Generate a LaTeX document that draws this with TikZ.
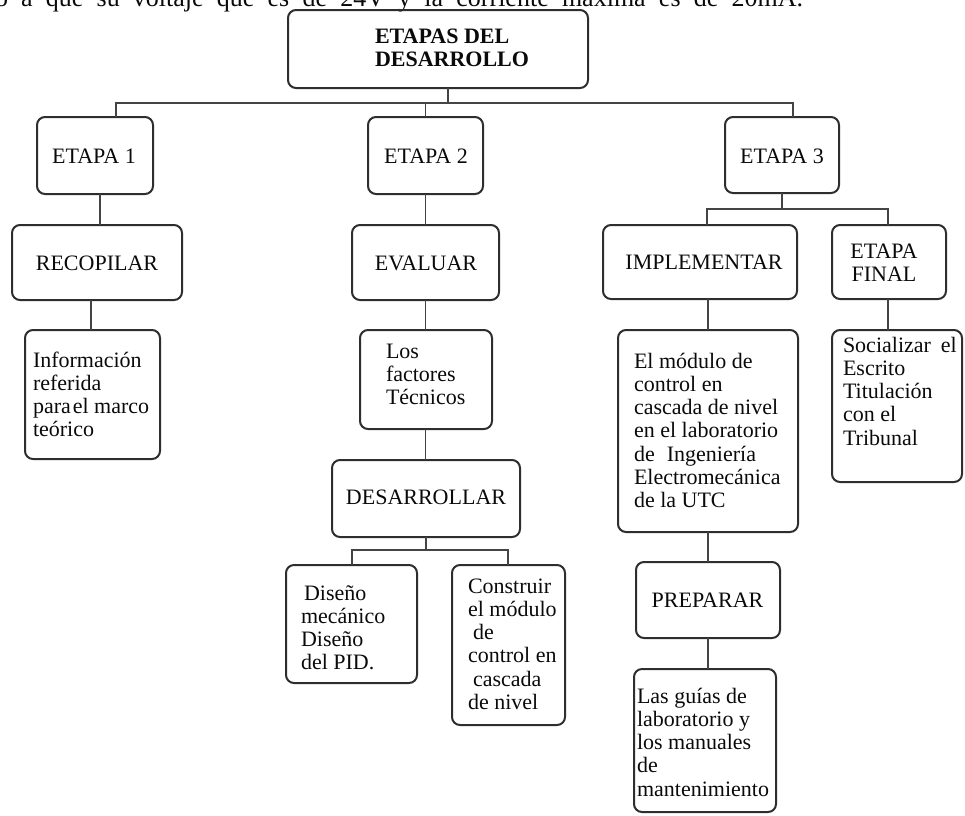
\documentclass[tikz,border=0pt]{standalone}
\usepackage{fontspec}
\setmainfont{Liberation Serif}
\usetikzlibrary{fit}
\definecolor{edge}{HTML}{2E2E2E}
\definecolor{wire}{HTML}{444444}
\definecolor{ink}{HTML}{0A0A0A}
% multi-line text blocks whose base is the first line's baseline
\newcommand\stackL[1]{\begin{tabular}[t]{@{}l@{}}#1\end{tabular}}
\newcommand\stackC[1]{\begin{tabular}[t]{@{}c@{}}#1\end{tabular}}
\begin{document}
\begin{tikzpicture}[x=1pt,y=-1pt,
  box/.style={draw=edge, line width=2pt, rounded corners=8pt, inner sep=0pt, outer sep=0pt},
  conn/.style={draw=wire, line width=1.7pt},
  txt/.style={text=ink, inner sep=0pt, outer sep=0pt, font=\fontsize{22}{23.3}\selectfont},
  txtw/.style={txt, anchor=base west},
  txtc/.style={txt, anchor=base}]
\useasboundingbox (0,0) rectangle (965,815);

% running text line above the chart
\node[txt, anchor=base west, font=\fontsize{26}{28}\selectfont] (prose) at (-5,6)
  {\makebox[808pt][s]{o a que su voltaje que es de 24V y la corriente máxima es de 20mA.}};

% boxes
\node[box, fit={(288,10) (588,88)}]   (top)  {};
\node[box, fit={(37,117) (153,194)}]  (e1)   {};
\node[box, fit={(368,117) (483,194)}] (e2)   {};
\node[box, fit={(725,117) (839,193)}] (e3)   {};
\node[box, fit={(12,225) (182,300)}]  (rec)  {};
\node[box, fit={(352,225) (499,300)}] (eva)  {};
\node[box, fit={(603,225) (797,299)}] (imp)  {};
\node[box, fit={(832,225) (946,299)}] (fin)  {};
\node[box, fit={(25,330) (160,459)}]  (info) {};
\node[box, fit={(360,330) (492,429)}] (los)  {};
\node[box, fit={(332,460) (520,537)}] (des)  {};
\node[box, fit={(286,565) (417,683)}] (dis)  {};
\node[box, fit={(452,565) (565,725)}] (con)  {};
\node[box, fit={(618,330) (798,532)}] (mod)  {};
\node[box, fit={(636,562) (780,638)}] (prep) {};
\node[box, fit={(634,669) (776,812)}] (guia) {};
\node[box, fit={(832,330) (962,482)}] (soc)  {};

% texts
\node[txtw, font=\fontsize{22}{23}\selectfont\bfseries] (ttop) at (375,43) {\stackL{ETAPAS DEL\\DESARROLLO}};
\node[txtc] (te1) at (94,163) {ETAPA 1};
\node[txtc] (te2) at (426,163) {ETAPA 2};
\node[txtc] (te3) at (782,163) {ETAPA 3};
\node[txtc] (trec) at (97,270) {RECOPILAR};
\node[txtc] (teva) at (426,270) {EVALUAR};
\node[txtc] (timp) at (704,269) {IMPLEMENTAR};
\node[txtc] (tfin) at (884,258) {\stackC{ETAPA\\FINAL}};
\node[txtw] (tinfo) at (33,367) {\stackL{Información\\referida\\para\hspace{2pt}el marco\\teórico}};
\node[txtw] (tlos) at (386,358) {\stackL{Los\\factores\\Técnicos}};
\node[txtc] (tdes) at (426,504) {DESARROLLAR};
\node[txtw] (tdis) at (301,600) {\stackL{\hspace{3pt}Diseño\\mecánico\\Diseño\\del PID.}};
\node[txtw] (tcon) at (468,593) {\stackL{Construir\\el módulo\\\hspace{5pt}de\\control en\\\hspace{5pt}cascada\\de nivel}};
\node[txtw] (tmod) at (634,368) {\stackL{El módulo de\\control en\\cascada de nivel\\en el laboratorio\\de\hspace{0.55em}Ingeniería\\Electromecánica\\de la UTC}};
\node[txtc] (tprep) at (707.5,607) {PREPARAR};
\node[txtw] (tguia) at (637,703) {\stackL{Las guías de\\laboratorio y\\los manuales\\de\\mantenimiento}};
\node[txtw] (tsoc) at (843,352) {\stackL{Socializar\hspace{0.45em}el\\Escrito\\Titulación\\con el\\Tribunal}};

% junction points of the connectors
\coordinate (j0) at (448,103);
\coordinate (h1) at (116,103);
\coordinate (h3) at (793,103);
\coordinate (k1) at (100,0);
\coordinate (k2) at (91,0);
\coordinate (m0) at (782,209);
\coordinate (m1) at (707,209);
\coordinate (m2) at (888,209);
\coordinate (d0) at (426,550);
\coordinate (d1) at (352,550);
\coordinate (d2) at (508,550);
\coordinate (v3) at (708,0);

% connectors
\draw[conn] (top.south -| j0) -- (j0);
\draw[conn] (e1.north -| h1) -- (h1) -- (h3) -- (e3.north -| h3);
\draw[conn] (e2.north) -- (e2.north |- h1);

\draw[conn] (e1.south -| k1) -- (rec.north -| k1);
\draw[conn] (rec.south -| k2) -- (info.north -| k2);

\draw[conn] (e2.south) -- (eva.north -| e2.south);
\draw[conn] (eva.south -| e2.south) -- (los.north -| e2.south);
\draw[conn] (los.south -| e2.south) -- (des.north -| e2.south);
\draw[conn] (des.south -| d0) -- (d0);
\draw[conn] (dis.north -| d1) -- (d1) -- (d2) -- (con.north -| d2);

\draw[conn] (e3.south -| m0) -- (m0);
\draw[conn] (imp.north -| m1) -- (m1) -- (m2) -- (fin.north -| m2);
\draw[conn] (imp.south -| v3) -- (mod.north -| v3);
\draw[conn] (mod.south -| v3) -- (prep.north -| v3);
\draw[conn] (prep.south -| v3) -- (guia.north -| v3);
\draw[conn] (fin.south -| m2) -- (soc.north -| m2);
\end{tikzpicture}
\end{document}
